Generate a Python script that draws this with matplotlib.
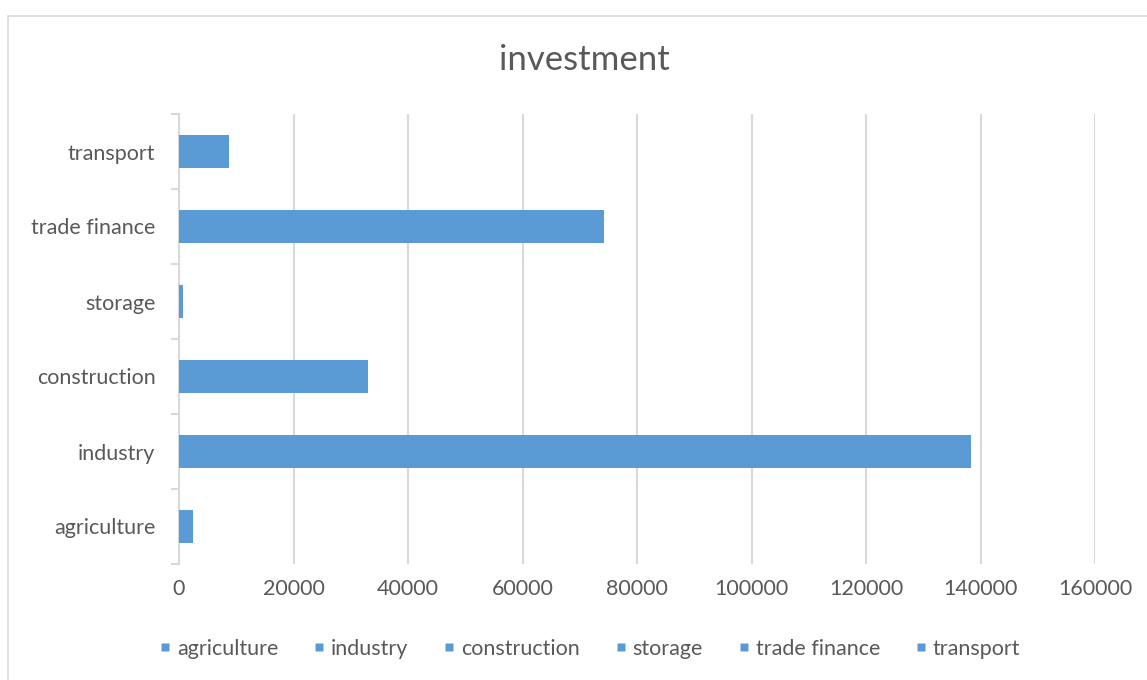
import matplotlib.pyplot as plt
from matplotlib.patches import Rectangle
from matplotlib.lines import Line2D
from matplotlib.ticker import FixedLocator

plt.rcParams['font.family'] = ['Lato', 'DejaVu Sans']

sectors = ['agriculture', 'industry', 'construction', 'storage', 'trade finance', 'transport']
investment = [2500, 138400, 33000, 700, 74200, 8700]
x_ticks = [0, 20000, 40000, 60000, 80000, 100000, 120000, 140000, 160000]

bar_color = '#5B9BD5'
text_color = '#595959'
line_color = '#D9D9D9'

fig = plt.figure(figsize=(11.47, 6.8), dpi=100)
# outer chart frame
fig.patches.append(Rectangle((8 / 1147, -0.1), 1.2, 1.1 - 16 / 680,
                             transform=fig.transFigure, fill=False,
                             edgecolor=line_color, linewidth=1.2))

ax = fig.add_axes([179 / 1147, 1 - 564 / 680, (1095 - 179) / 1147, (564 - 114) / 680])
ypos = list(range(len(sectors)))
ax.barh(ypos, investment, height=0.44, color=bar_color, zorder=3)

ax.set_xlim(0, 160000)
ax.set_ylim(-0.5, len(sectors) - 0.5)
ax.set_xticks(x_ticks)
ax.set_xticklabels([str(t) for t in x_ticks])
ax.set_yticks(ypos)
ax.set_yticklabels(sectors)
ax.yaxis.set_minor_locator(FixedLocator([i - 0.5 for i in range(len(sectors) + 1)]))

ax.grid(axis='x', color=line_color, linewidth=1.5, zorder=0)
for s in ['top', 'right', 'bottom']:
    ax.spines[s].set_visible(False)
ax.spines['left'].set_color(line_color)
ax.spines['left'].set_linewidth(1.5)

ax.tick_params(axis='x', length=0, pad=11, labelsize=15.5, labelcolor=text_color)
ax.tick_params(axis='y', which='major', length=0, pad=17, labelsize=15.5, labelcolor=text_color)
ax.tick_params(axis='y', which='minor', length=6, width=1.5, color=line_color)

fig.text(584 / 1147, 1 - 60 / 680, 'investment', ha='center', va='center',
         fontsize=25, color=text_color)

handles = [Line2D([], [], marker='s', linestyle='none', markersize=6,
                  markerfacecolor=bar_color, markeredgecolor='none') for _ in sectors]
fig.legend(handles, sectors, loc='center', bbox_to_anchor=(590 / 1147, 1 - 649 / 680),
           ncol=len(sectors), frameon=False, fontsize=15.5, labelcolor=text_color,
           handlelength=0.5, handletextpad=0.3, columnspacing=1.65)

fig.savefig('out.png', dpi=100, facecolor='white')
